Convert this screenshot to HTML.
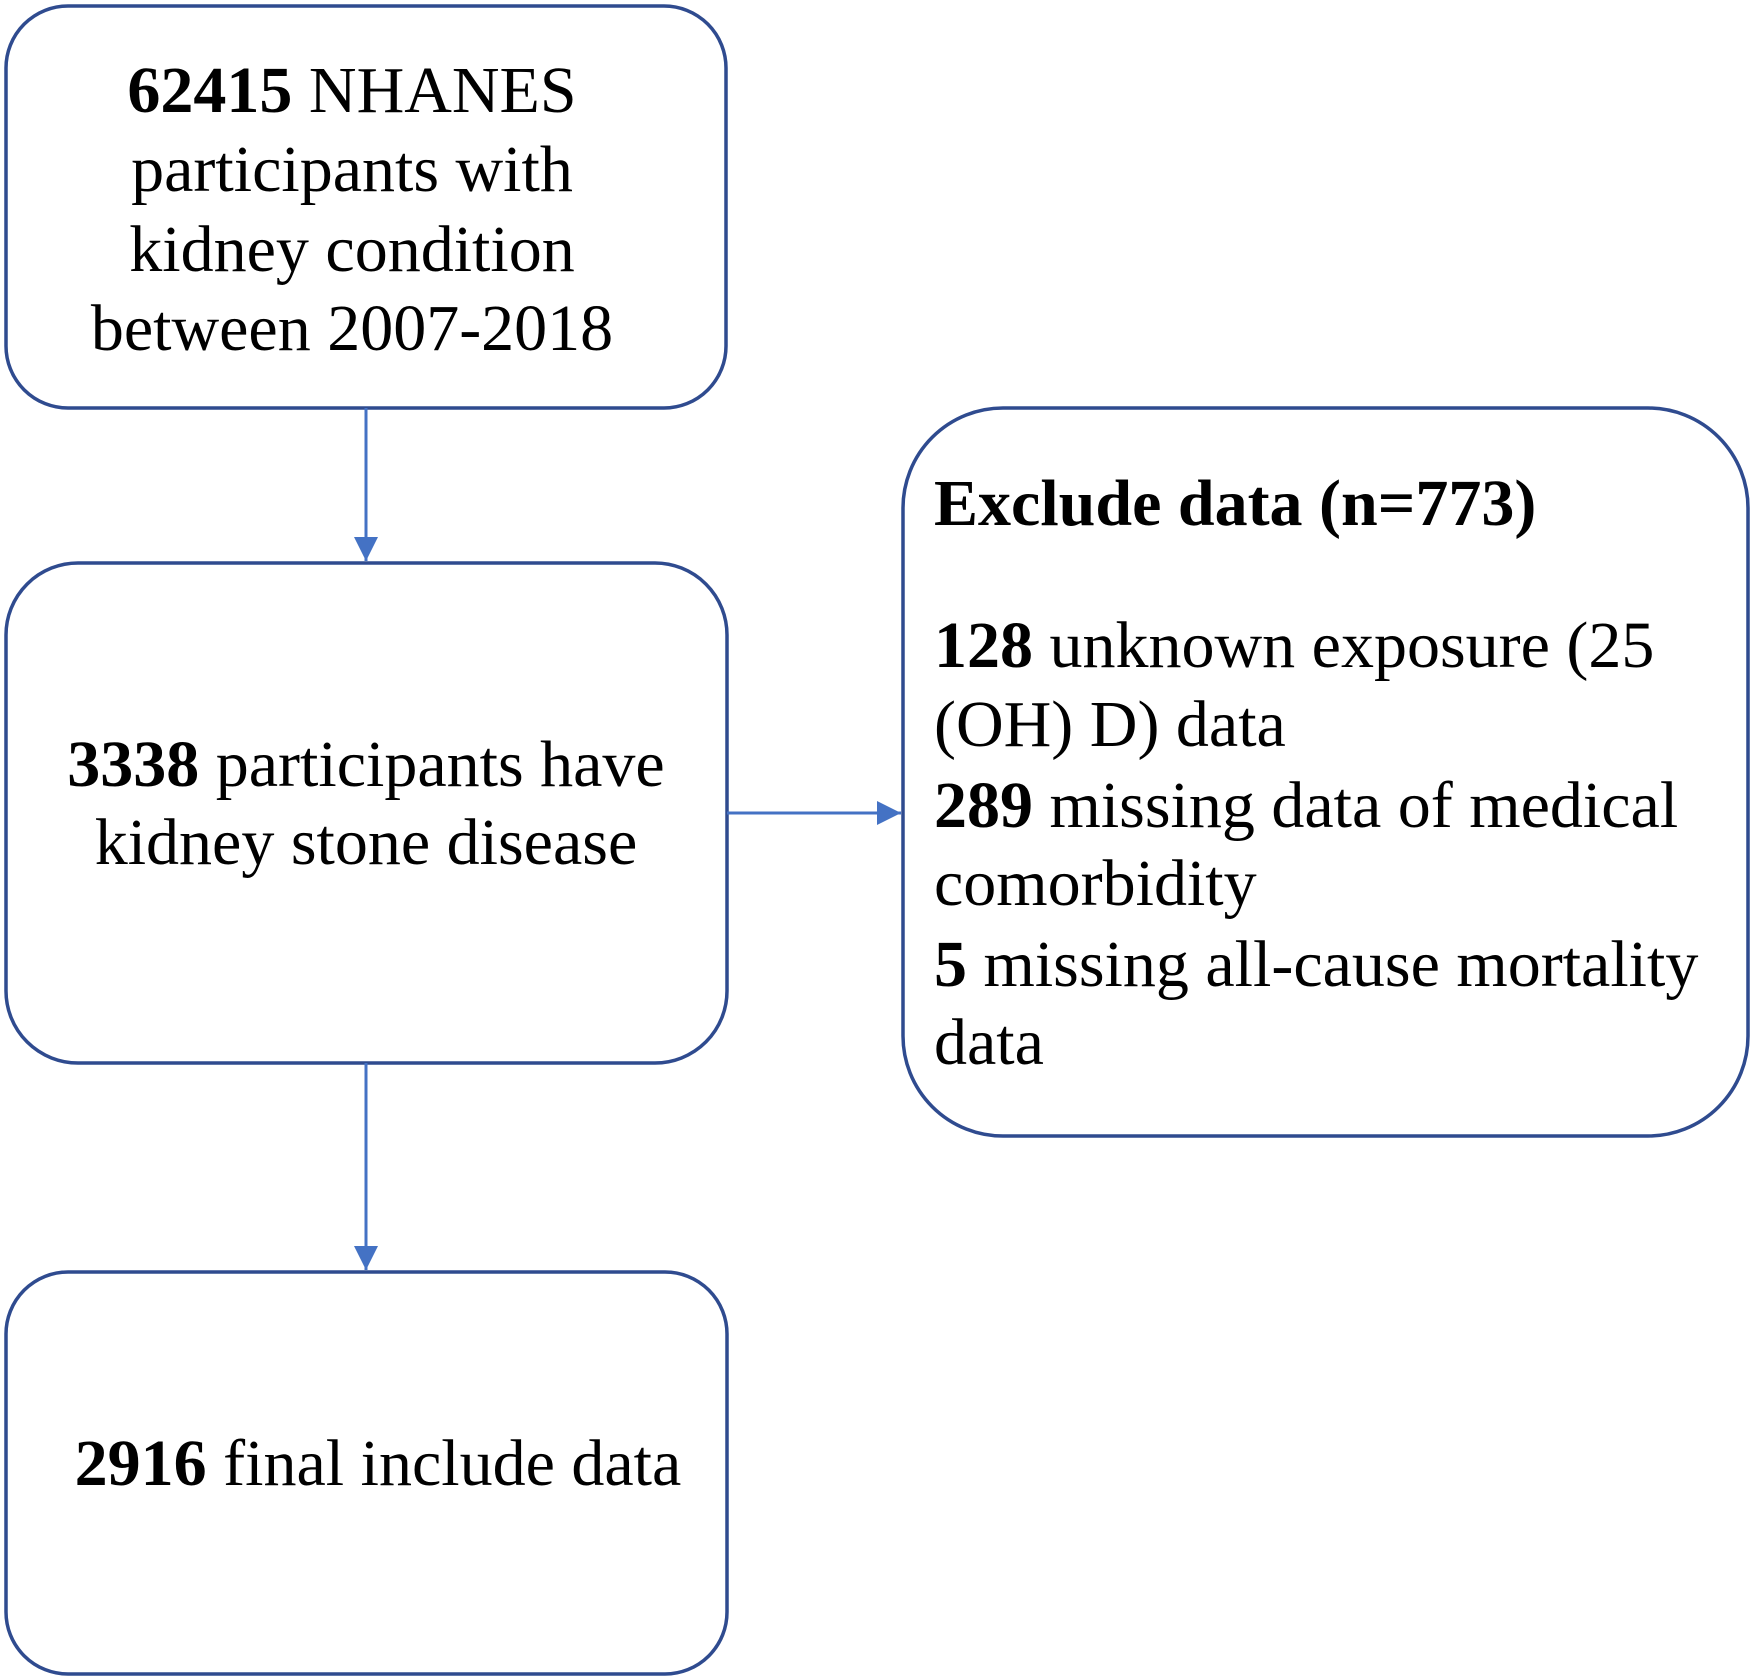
<!DOCTYPE html>
<html><head><meta charset="utf-8">
<style>
html,body{margin:0;padding:0;background:#fff;}
svg{display:block;}
text{font-family:"Liberation Serif","Times New Roman",serif;font-size:66px;fill:#000;}
.b{font-weight:bold;}
</style></head>
<body>
<svg width="1754" height="1680" viewBox="0 0 1754 1680">
<defs>
<marker id="ah" markerWidth="24" markerHeight="24" refX="24" refY="12" orient="auto" markerUnits="userSpaceOnUse" viewBox="0 0 24 24">
<path d="M0,0 L24,12 L0,24 z" fill="#4472c4"/>
</marker>
</defs>
<g fill="#fff" stroke="#2f4b8f" stroke-width="3.5">
<rect x="6" y="6" width="720" height="402" rx="62"/>
<rect x="6" y="563" width="721" height="500" rx="72"/>
<rect x="6" y="1272" width="721" height="402" rx="62"/>
<rect x="903" y="408" width="845" height="728" rx="100"/>
</g>
<g stroke="#4472c4" stroke-width="3" fill="none">
<path d="M366,408 L366,561" marker-end="url(#ah)"/>
<path d="M366,1063 L366,1270" marker-end="url(#ah)"/>
<path d="M727,813 L901,813" marker-end="url(#ah)"/>
</g>
<g text-anchor="middle">
<text x="352" y="112"><tspan class="b">62415</tspan> NHANES</text>
<text x="352" y="191">participants with</text>
<text x="352" y="271">kidney condition</text>
<text x="352" y="350">between 2007-2018</text>
</g>
<g text-anchor="middle">
<text x="366" y="786"><tspan class="b">3338</tspan> participants have</text>
<text x="366" y="864">kidney stone disease</text>
</g>
<text x="378" y="1485" text-anchor="middle"><tspan class="b">2916</tspan> final include data</text>
<g>
<text x="934" y="525" class="b">Exclude data (n=773)</text>
<text x="934" y="667"><tspan class="b">128</tspan> unknown exposure (25</text>
<text x="934" y="746">(OH) D) data</text>
<text x="934" y="827"><tspan class="b">289</tspan> missing data of medical</text>
<text x="934" y="905">comorbidity</text>
<text x="934" y="986"><tspan class="b">5</tspan> missing all-cause mortality</text>
<text x="934" y="1064">data</text>
</g>
</svg>
</body></html>
